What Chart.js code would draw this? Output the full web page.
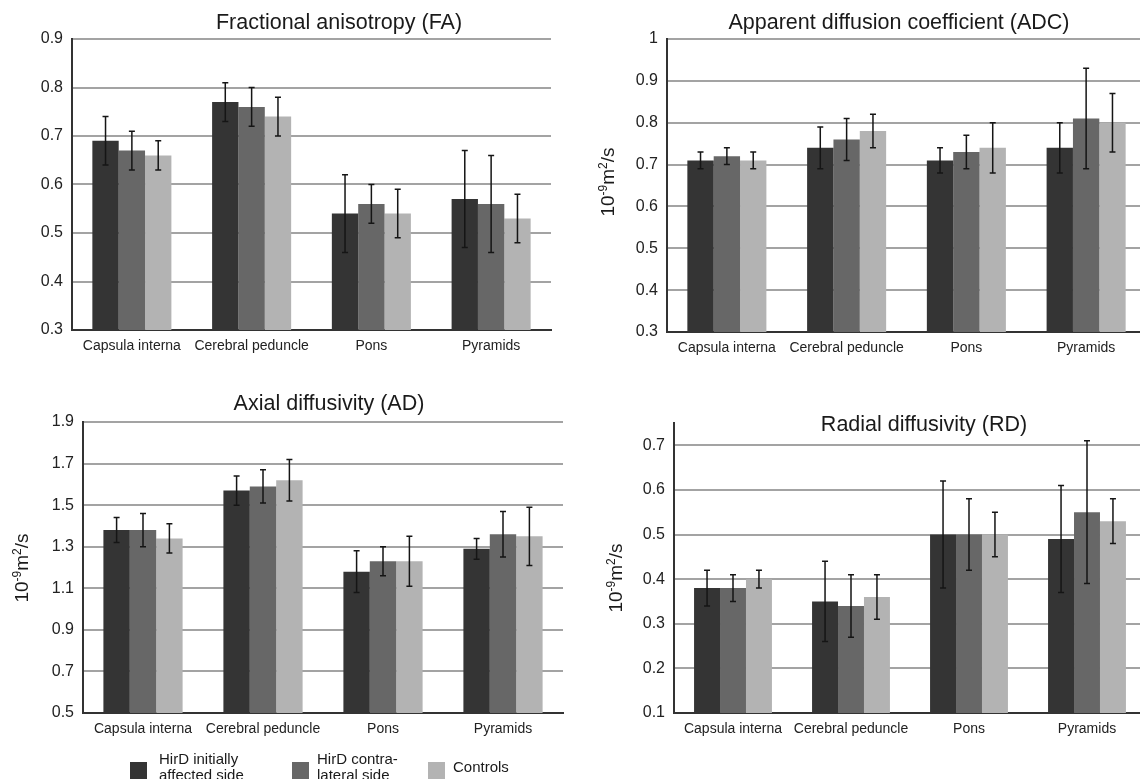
<!DOCTYPE html>
<html>
<head>
<meta charset="utf-8">
<script src="https://cdn.jsdelivr.net/npm/chart.js@4"></script>
<style>
  html, body { margin: 0; padding: 0; background: #fff; }
  body { width: 1140px; height: 779px; overflow: hidden; position: relative; }
  canvas { position: absolute; }
</style>
</head>
<body>
<canvas id="fa"></canvas>
<canvas id="adc"></canvas>
<canvas id="ad"></canvas>
<canvas id="rd"></canvas>
<script>
// categories and series
const categories = ["Capsula interna", "Cerebral peduncle", "Pons", "Pyramids"];
const seriesNames = [["HirD initially", "affected side"], ["HirD contra-", "lateral side"], ["Controls"]];
const seriesColors = ["#343434", "#676767", "#b3b3b3"];

// means and error (one row per series: affected, contralateral, controls)
const faMean = [[0.69, 0.77, 0.54, 0.57], [0.67, 0.76, 0.56, 0.56], [0.66, 0.74, 0.54, 0.53]];
const faErr = [[0.05, 0.04, 0.08, 0.10], [0.04, 0.04, 0.04, 0.10], [0.03, 0.04, 0.05, 0.05]];
const adcMean = [[0.71, 0.74, 0.71, 0.74], [0.72, 0.76, 0.73, 0.81], [0.71, 0.78, 0.74, 0.80]];
const adcErr = [[0.02, 0.05, 0.03, 0.06], [0.02, 0.05, 0.04, 0.12], [0.02, 0.04, 0.06, 0.07]];
const adMean = [[1.38, 1.57, 1.18, 1.29], [1.38, 1.59, 1.23, 1.36], [1.34, 1.62, 1.23, 1.35]];
const adErr = [[0.06, 0.07, 0.10, 0.05], [0.08, 0.08, 0.07, 0.11], [0.07, 0.10, 0.12, 0.14]];
const rdMean = [[0.38, 0.35, 0.50, 0.49], [0.38, 0.34, 0.50, 0.55], [0.40, 0.36, 0.50, 0.53]];
const rdErr = [[0.04, 0.09, 0.12, 0.12], [0.03, 0.07, 0.08, 0.16], [0.02, 0.05, 0.05, 0.05]];

const FONT = "'Liberation Sans', Arial, sans-serif";
Chart.defaults.font.family = FONT;
const X_AXIS_H = 30;

// error bars drawn from the y scale
const errorBars = {
  id: "errorBars",
  afterDatasetsDraw(chart) {
    const ctx = chart.ctx;
    const y = chart.scales.y;
    ctx.save();
    ctx.strokeStyle = "#151515";
    ctx.lineWidth = 1.5;
    chart.data.datasets.forEach((ds, i) => {
      chart.getDatasetMeta(i).data.forEach((bar, j) => {
        const v = ds.data[j], e = ds.errors[j];
        const yt = y.getPixelForValue(v + e), yb = y.getPixelForValue(v - e);
        ctx.beginPath();
        ctx.moveTo(bar.x, yt); ctx.lineTo(bar.x, yb);
        ctx.moveTo(bar.x - 3, yt); ctx.lineTo(bar.x + 3, yt);
        ctx.moveTo(bar.x - 3, yb); ctx.lineTo(bar.x + 3, yb);
        ctx.stroke();
      });
    });
    ctx.restore();
  }
};

function drawUnit(ctx, x, y) {
  const parts = [["10", 19, 0], ["-9", 12, 7], ["m", 19, 0], ["2", 12, 7], ["/s", 19, 0]];
  ctx.save();
  ctx.translate(x, y);
  ctx.rotate(-Math.PI / 2);
  ctx.fillStyle = "#1a1a1a";
  ctx.textAlign = "left";
  ctx.textBaseline = "alphabetic";
  let w = 0;
  parts.forEach(p => { ctx.font = p[1] + "px " + FONT; w += ctx.measureText(p[0]).width; });
  let cx = -w / 2;
  parts.forEach(p => {
    ctx.font = p[1] + "px " + FONT;
    ctx.fillText(p[0], cx, 7 - p[2]);
    cx += ctx.measureText(p[0]).width;
  });
  ctx.restore();
}

function drawLegend(ctx, ox, oy) {
  const boxes = [[130, 762, 159], [292, 762, 317], [428, 762, 453]];
  ctx.save();
  ctx.font = "15px " + FONT;
  ctx.textBaseline = "middle";
  ctx.textAlign = "left";
  seriesNames.forEach((lines, i) => {
    const b = boxes[i];
    ctx.fillStyle = seriesColors[i];
    ctx.fillRect(b[0] - ox, b[1] - oy, 17, 17);
    ctx.fillStyle = "#1a1a1a";
    if (lines.length === 1) {
      ctx.fillText(lines[0], b[2] - ox, 768 - oy);
    } else {
      ctx.fillText(lines[0], b[2] - ox, 760 - oy);
      ctx.fillText(lines[1], b[2] - ox, 776 - oy);
    }
  });
  ctx.restore();
}

function makeChart(cfg) {
  const [bl, bt, bw, bh] = cfg.box;
  const [al, ar, at, ab] = cfg.area;
  const canvas = document.getElementById(cfg.id);
  canvas.width = bw; canvas.height = bh;
  canvas.style.left = bl + "px"; canvas.style.top = bt + "px";
  canvas.style.width = bw + "px"; canvas.style.height = bh + "px";

  const decor = {
    id: "decor",
    afterDraw(chart) {
      const ctx = chart.ctx;
      ctx.save();
      ctx.font = "21.5px " + FONT;
      ctx.fillStyle = "#1a1a1a";
      ctx.textAlign = "center";
      ctx.textBaseline = "middle";
      ctx.fillText(cfg.title, cfg.titlePos[0] - bl, cfg.titlePos[1] - bt);
      ctx.restore();
      if (cfg.unitPos) drawUnit(ctx, cfg.unitPos[0] - bl, cfg.unitPos[1] - bt);
      if (cfg.legend) drawLegend(ctx, bl, bt);
    }
  };

  return new Chart(canvas, {
    type: "bar",
    data: {
      labels: categories,
      datasets: cfg.mean.map((vals, i) => ({
        label: seriesNames[i].join(" "),
        data: vals,
        errors: cfg.err[i],
        backgroundColor: seriesColors[i],
        borderWidth: 0,
        categoryPercentage: 0.66,
        barPercentage: 1.0
      }))
    },
    options: {
      responsive: false,
      animation: false,
      layout: {
        padding: {
          left: 0,
          top: at - bt,
          right: bl + bw - ar,
          bottom: bt + bh - ab - X_AXIS_H
        }
      },
      plugins: {
        legend: { display: false },
        title: { display: false },
        tooltip: { enabled: false }
      },
      scales: {
        x: {
          grid: { display: false, drawTicks: false },
          border: { color: "#333", width: 2 },
          ticks: { font: { size: 14 }, color: "#222", padding: 8, maxRotation: 0, autoSkip: false },
          afterFit: s => { s.height = X_AXIS_H; }
        },
        y: {
          min: cfg.yMin,
          max: cfg.yMax,
          ticks: {
            stepSize: cfg.yStep,
            includeBounds: false,
            padding: 9,
            font: { size: 16 },
            color: "#222",
            callback: v => String(Math.round(v * 10) / 10)
          },
          grid: {
            drawTicks: false,
            lineWidth: 2,
            color: c => (c.index === 0 ? "rgba(0,0,0,0)" : "#a3a3a3")
          },
          border: { color: "#333", width: 2 },
          afterFit: s => { s.width = al - bl; }
        }
      }
    },
    plugins: [errorBars, decor]
  });
}

makeChart({
  id: "fa", box: [0, 0, 570, 370], area: [72, 551, 39, 330],
  mean: faMean, err: faErr, yMin: 0.3, yMax: 0.9, yStep: 0.1,
  title: "Fractional anisotropy (FA)", titlePos: [339, 23]
});
makeChart({
  id: "adc", box: [570, 0, 581, 370], area: [667, 1146, 39, 332],
  mean: adcMean, err: adcErr, yMin: 0.3, yMax: 1.0, yStep: 0.1,
  title: "Apparent diffusion coefficient (ADC)", titlePos: [899, 23], unitPos: [607, 182]
});
makeChart({
  id: "ad", box: [0, 370, 570, 409], area: [83, 563, 422, 713],
  mean: adMean, err: adErr, yMin: 0.5, yMax: 1.9, yStep: 0.2,
  title: "Axial diffusivity (AD)", titlePos: [329, 404], unitPos: [21, 568], legend: true
});
makeChart({
  id: "rd", box: [570, 370, 581, 409], area: [674, 1146, 423, 713],
  mean: rdMean, err: rdErr, yMin: 0.1, yMax: 0.75, yStep: 0.1,
  title: "Radial diffusivity (RD)", titlePos: [924, 425], unitPos: [615, 578]
});
</script>
</body>
</html>
